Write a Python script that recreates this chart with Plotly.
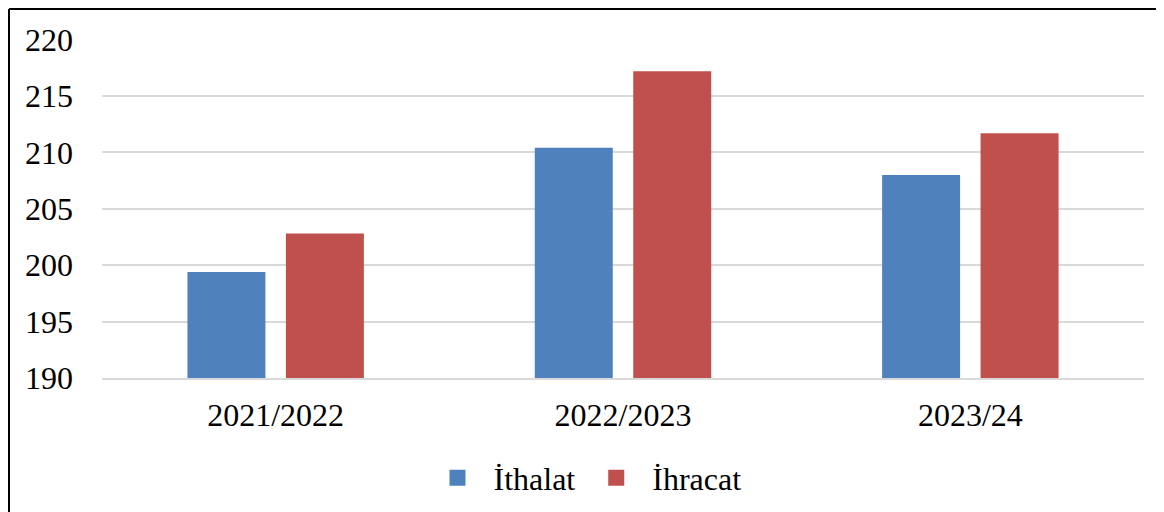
import plotly.graph_objects as go

categories = ["2021/2022", "2022/2023", "2023/24"]
ithalat = [199.4, 210.4, 208.0]
ihracat = [202.8, 217.2, 211.7]
series_names = ["İthalat", "İhracat"]
colors = ["#4F81BD", "#C0504D"]
y_ticks = [190, 195, 200, 205, 210, 215, 220]

FONT = "Liberation Serif, Times New Roman, serif"
W, H = 1164, 512
OFF = 8  # page body margin
L, R, T, B = 102 - OFF, W - (1144 - OFF), 39 - OFF, H - (378 - OFF)
pw, ph = W - L - R, H - T - B

NB = "\u00a0"
legend_labels = [NB * 2 + series_names[0] + NB * 2, NB * 2 + series_names[1]]

fig = go.Figure()
for name, vals, col in zip(series_names, [ithalat, ihracat], colors):
    fig.add_trace(go.Bar(x=categories, y=vals, name=name, marker_color=col,
                         marker_line_width=0, showlegend=False))
for label, col in zip(legend_labels, colors):
    fig.add_trace(go.Scatter(x=[None], y=[None], mode="markers", name=label,
                             marker=dict(symbol="square", size=16, color=col)))

def px_x(x):  # screen px -> paper
    return (x - OFF - L) / pw

def px_y(y):
    return (H - B - (y - OFF)) / ph

fig.add_shape(type="line", xref="paper", yref="paper", x0=px_x(9), x1=px_x(1300),
              y0=px_y(9), y1=px_y(9), line=dict(color="black", width=2))
fig.add_shape(type="line", xref="paper", yref="paper", x0=px_x(9), x1=px_x(9),
              y0=px_y(9), y1=px_y(700), line=dict(color="black", width=2))

fig.update_layout(
    width=W, height=H,
    margin=dict(l=L, r=R, t=T, b=B),
    paper_bgcolor="white", plot_bgcolor="white",
    barmode="group", bargap=0.433, bargroupgap=0.208,
    font=dict(family=FONT, size=32, color="black"),
    legend=dict(orientation="h", x=px_x(592), xanchor="center", y=px_y(478), yanchor="middle",
                font=dict(family=FONT, size=32, color="black"), itemclick=False),
    yaxis=dict(range=[190, 220.05], tickvals=y_ticks, showgrid=True, gridcolor="#D9D9D9",
               gridwidth=1.5, zeroline=False, ticks="", ticklabelstandoff=28,
               tickfont=dict(family=FONT, size=32)),
    xaxis=dict(showline=True, linecolor="#D9D9D9", linewidth=1.5, ticks="",
               ticklabelstandoff=8, tickfont=dict(family=FONT, size=32)),
)

fig.write_html("out.html")
